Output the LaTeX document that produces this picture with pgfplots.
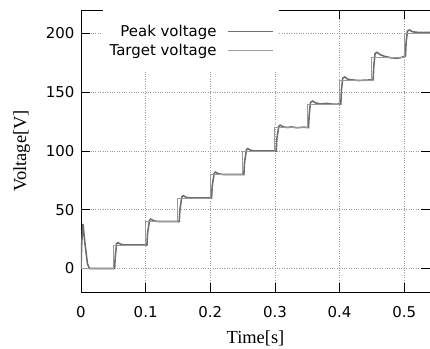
\documentclass[border=0pt]{standalone}
\usepackage{pgfplots}
\pgfplotsset{compat=1.18}
\usepackage{fontspec}
\setmainfont{DejaVu Sans}
\newfontfamily\seriffont{Liberation Serif}
\definecolor{peakc}{HTML}{6E6E6E}
\definecolor{targc}{HTML}{9A9A9A}
\begin{document}
\begin{tikzpicture}
\begin{axis}[
  scale only axis,
  width=349bp, height=282bp,
  xmin=0, xmax=0.54, ymin=-20, ymax=220,
  xtick={0,0.1,0.2,0.3,0.4,0.5},
  ytick={0,50,100,150,200},
  xticklabels={0,0.1,0.2,0.3,0.4,0.5},
  /pgf/number format/assume math mode=true,
  tick align=inside,
  major tick length=9bp,
  tick style={black, line width=0.6pt},
  axis line style={black, line width=0.8pt},
  grid=major,
  grid style={dotted, gray!80, line width=0.6pt},
  ticklabel style={font=\fontsize{15}{17}\selectfont},
  xticklabel style={yshift=-11bp},
  yticklabel style={xshift=-3bp},
  xlabel={\seriffont Time[s]},
  ylabel={\seriffont Voltage[V]},
  label style={font=\fontsize{18.5}{20}\selectfont},
  xlabel style={yshift=-6bp},
  ylabel style={yshift=9bp},
  legend style={draw=none, fill=white, font=\fontsize{15}{17}\selectfont,
    at={(0.567,1)}, anchor=north east, inner xsep=5bp, inner ysep=13bp,
    row sep=2bp, cells={anchor=east}},
  legend plot pos=right,
  legend image code/.code={\path (0bp,0bp); \draw[#1, line width=0.8pt] (9bp,0bp) -- (54bp,0bp);},
]
\addplot[peakc, line width=1.6pt] coordinates {
(0,0) (0.001,20) (0.003,38) (0.006,22) (0.010,4) (0.013,0) (0.030,0) (0.052,0)
(0.053,10) (0.055,21) (0.057,22) (0.062,20.5) (0.07,20) (0.1,20)
(0.102,20) (0.103,30) (0.106,41) (0.108,42) (0.113,40.5) (0.12,40) (0.15,40)
(0.152,40) (0.153,50) (0.156,61) (0.158,62) (0.163,60.5) (0.17,60) (0.2,60)
(0.202,60) (0.203,70) (0.206,81) (0.208,82) (0.213,80.5) (0.22,80) (0.25,80)
(0.252,80) (0.253,90) (0.256,101) (0.258,102) (0.263,100.5) (0.27,100) (0.3,100)
(0.302,100) (0.303,110) (0.306,121) (0.308,122) (0.313,120.5) (0.32,120) (0.325,120.5) (0.335,119.8) (0.345,120.3) (0.35,120)
(0.352,120) (0.353,130) (0.355,141) (0.358,142.5) (0.363,141) (0.37,140) (0.38,140.5) (0.39,139.8) (0.4,140)
(0.402,140) (0.403,152) (0.405,162) (0.408,163) (0.413,161) (0.42,160.5) (0.43,160) (0.44,160.3) (0.45,160.5)
(0.452,160.5) (0.453,172) (0.455,183) (0.458,184) (0.463,182) (0.47,180.5) (0.48,179.3) (0.49,179) (0.497,179.8) (0.5,180.5)
(0.502,180.5) (0.503,192) (0.505,202) (0.508,203) (0.513,201.5) (0.52,201) (0.53,200.8) (0.54,201)
};
\addlegendentry{Peak voltage}
\addplot[targc, line width=0.9pt] coordinates {
(0,0) (0.05,0) (0.05,20) (0.1,20) (0.1,40) (0.15,40) (0.15,60) (0.2,60) (0.2,80)
(0.25,80) (0.25,100) (0.3,100) (0.3,120) (0.35,120) (0.35,140) (0.4,140) (0.4,160)
(0.45,160) (0.45,180) (0.5,180) (0.5,200) (0.54,200)
};
\addlegendentry{Target voltage}
\end{axis}
\pgfresetboundingbox
\path[use as bounding box] ([xshift=-81bp,yshift=-57bp]current axis.south west) rectangle ([yshift=10bp]current axis.north east);
\end{tikzpicture}
\end{document}
